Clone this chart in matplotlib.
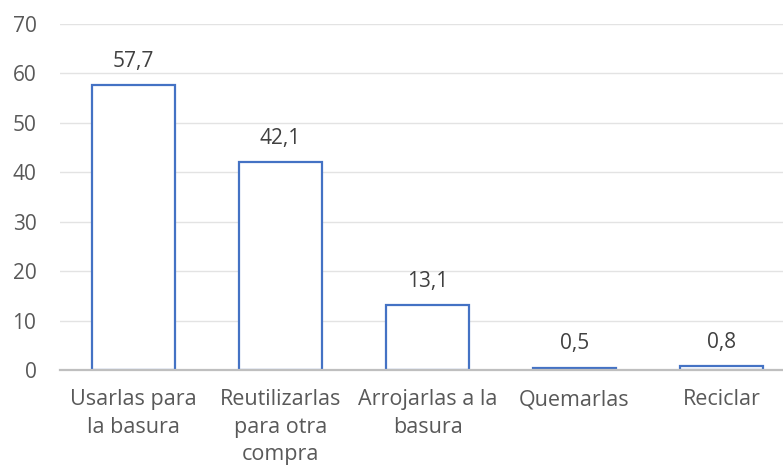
import matplotlib.pyplot as plt
import numpy as np

categorias = ["Usarlas para\nla basura", "Reutilizarlas\npara otra\ncompra",
              "Arrojarlas a la\nbasura", "Quemarlas", "Reciclar"]
valores = [57.7, 42.1, 13.1, 0.5, 0.8]
yticks = [0, 10, 20, 30, 40, 50, 60, 70]

plt.rcParams['font.family'] = ['Open Sans', 'DejaVu Sans']
texto = '#595959'
azul = '#4472C4'

fig = plt.figure(figsize=(7.83, 4.70), dpi=100)
ax = fig.add_axes([60 / 783, 100 / 470, 735 / 783, 346 / 470])

x = np.arange(len(categorias))
ax.bar(x, valores, width=0.56, facecolor='white', edgecolor=azul, linewidth=1.6, zorder=3)

# etiquetas de valor con coma decimal
for xi, v in zip(x, valores):
    ax.annotate(f"{v:.1f}".replace('.', ','), (xi, v), xytext=(0, 13),
                textcoords='offset points', ha='center', va='baseline',
                fontsize=15, color='#404040')

ax.set_xlim(-0.5, len(categorias) - 0.5)
ax.set_ylim(0, 70)
ax.set_yticks(yticks)
ax.set_xticks(x)
ax.set_xticklabels(categorias, fontsize=15.5, color=texto, linespacing=1.4, va='top')
ax.tick_params(axis='y', labelsize=15, labelcolor=texto, length=0, pad=17)
ax.tick_params(axis='x', length=0, pad=14)
ax.grid(axis='y', color='#E3E3E3', linewidth=1, zorder=0)
for s in ['top', 'right', 'left']:
    ax.spines[s].set_visible(False)
ax.spines['bottom'].set_color('#BFBFBF')
ax.spines['bottom'].set_linewidth(1.6)
ax.spines['bottom'].set_zorder(4)

fig.savefig('out.png', dpi=100)
